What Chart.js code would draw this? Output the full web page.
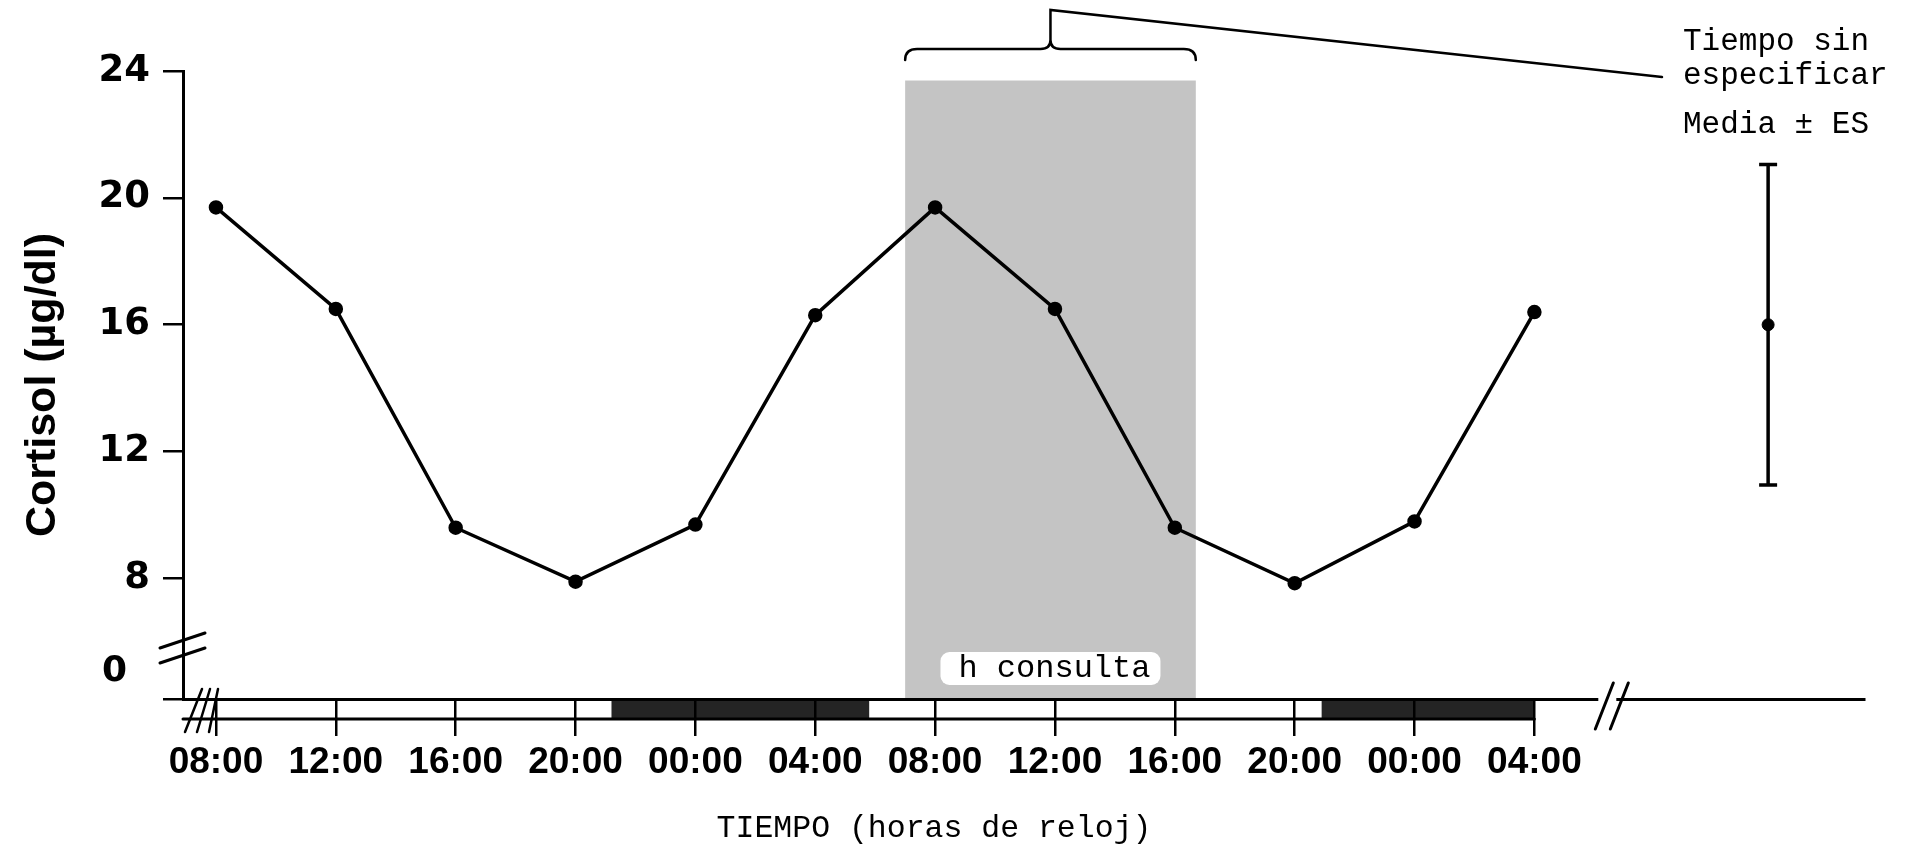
<!DOCTYPE html>
<html>
<head>
<meta charset="utf-8">
<title>Cortisol</title>
<script src="https://cdn.jsdelivr.net/npm/chart.js@4.4.1/dist/chart.umd.min.js"></script>
<style>
  html, body { margin: 0; padding: 0; background: #fff; overflow: hidden; }
  #wrap { position: relative; width: 1923px; height: 849px; }
</style>
</head>
<body>
<div id="wrap"><canvas id="cortisolChart"></canvas></div>
<script>
// horas desde las 08:00 del primer dia
const hours = [0, 4, 8, 12, 16, 20, 24, 28, 32, 36, 40, 44];
const clockLabels = ['08:00', '12:00', '16:00', '20:00', '00:00', '04:00', '08:00', '12:00', '16:00', '20:00', '00:00', '04:00'];
const cortisol = [19.7, 16.5, 9.6, 7.9, 9.7, 16.3, 19.7, 16.5, 9.6, 7.85, 9.8, 16.4];
const yTicks = [8, 12, 16, 20, 24];
const yAxisMin = 4.2;   // eje cortado, se rotula como 0

// tiempo sin especificar (media +/- ES)
const unspecHour = 51.8;
const unspecMean = 16.0;
const unspecSE = 5.05;

const consultHours = [23, 32.7];           // h consulta
const nights = [[13.2, 21.8], [36.9, 44]]; // barras oscuras
const bandEnd = 44;

const sans = "'Liberation Sans', Arial, sans-serif";
const mono = "'Liberation Mono', 'Courier New', monospace";

const backdrop = {
  id: 'backdrop',
  beforeDraw(chart) {
    const {ctx, scales: {x, y}, chartArea} = chart;
    ctx.save();
    // zona sombreada de consulta
    ctx.fillStyle = '#c4c4c4';
    const sx0 = x.getPixelForValue(consultHours[0]);
    const sx1 = x.getPixelForValue(consultHours[1]);
    const sTop = y.getPixelForValue(23.7);
    ctx.fillRect(sx0, sTop, sx1 - sx0, chartArea.bottom - sTop);
    // recuadro "h consulta"
    const mid = (sx0 + sx1) / 2;
    ctx.fillStyle = '#fff';
    ctx.beginPath();
    ctx.roundRect(mid - 110, chartArea.bottom - 47, 220, 33, 9);
    ctx.fill();
    ctx.fillStyle = '#000';
    ctx.font = '32px ' + mono;
    ctx.textAlign = 'center';
    ctx.textBaseline = 'middle';
    ctx.fillText('h consulta', mid + 4, chartArea.bottom - 30);
    // noches
    ctx.fillStyle = '#242424';
    nights.forEach(([a, b]) => {
      const p0 = x.getPixelForValue(a), p1 = x.getPixelForValue(b);
      ctx.fillRect(p0, chartArea.bottom, p1 - p0, 21);
    });
    ctx.restore();
  },
  afterDraw(chart) {
    const {ctx, scales: {x, y}, chartArea} = chart;
    const bot = chartArea.bottom;
    ctx.save();
    ctx.strokeStyle = '#000';
    ctx.fillStyle = '#000';
    ctx.lineWidth = 3;
    ctx.lineCap = 'round';

    // linea inferior de la banda dia/noche
    ctx.beginPath();
    ctx.moveTo(chartArea.left, bot + 20);
    ctx.lineTo(x.getPixelForValue(bandEnd), bot + 20);
    ctx.stroke();

    // /// al inicio del eje x
    ctx.lineWidth = 2.5;
    [[185, 202], [197, 210], [209, 218]].forEach(([a, b]) => {
      ctx.beginPath();
      ctx.moveTo(a, bot + 33);
      ctx.lineTo(b, bot - 10);
      ctx.stroke();
    });

    // corte // del eje x
    const gx = x.getPixelForValue(46.2);
    ctx.fillStyle = '#fff';
    ctx.fillRect(gx - 2, bot - 4, 18, 9);
    ctx.fillStyle = '#000';
    ctx.lineWidth = 3;
    [0, 15].forEach(d => {
      ctx.beginPath();
      ctx.moveTo(gx - 5 + d, bot + 30);
      ctx.lineTo(gx + 13 + d, bot - 16);
      ctx.stroke();
    });

    // corte del eje y
    [0, 15].forEach(d => {
      ctx.beginPath();
      ctx.moveTo(160, 648 + d);
      ctx.lineTo(205, 633 + d);
      ctx.stroke();
    });

    // etiqueta 0 del eje y
    ctx.font = 'bold 36px DejaVu Sans';
    ctx.textAlign = 'right';
    ctx.textBaseline = 'middle';
    ctx.fillText('0', 127, bot - 27);

    // llave sobre la consulta
    ctx.lineWidth = 2.5;
    const bx0 = x.getPixelForValue(consultHours[0]);
    const bx1 = x.getPixelForValue(consultHours[1]);
    const bm = (bx0 + bx1) / 2;
    const by = 49;
    ctx.beginPath();
    ctx.moveTo(bx0, by + 11);
    ctx.quadraticCurveTo(bx0, by, bx0 + 12, by);
    ctx.lineTo(bm - 10, by);
    ctx.quadraticCurveTo(bm, by, bm, by - 9);
    ctx.quadraticCurveTo(bm, by, bm + 10, by);
    ctx.lineTo(bx1 - 12, by);
    ctx.quadraticCurveTo(bx1, by, bx1, by + 11);
    ctx.moveTo(bm, by - 9);
    ctx.lineTo(bm, 10);
    ctx.lineTo(1662, 77);
    ctx.stroke();

    // textos de la derecha
    ctx.font = '31px ' + mono;
    ctx.textAlign = 'left';
    ctx.textBaseline = 'alphabetic';
    ctx.fillText('Tiempo sin', 1683, 50);
    ctx.fillText('especificar', 1683, 84);
    ctx.fillText('Media \u00b1 ES', 1683, 133);

    // barra de error
    const ex = x.getPixelForValue(unspecHour);
    const eTop = y.getPixelForValue(unspecMean + unspecSE);
    const eBot = y.getPixelForValue(unspecMean - unspecSE);
    ctx.lineWidth = 3.5;
    ctx.lineCap = 'butt';
    ctx.beginPath();
    ctx.moveTo(ex, eTop);
    ctx.lineTo(ex, eBot);
    ctx.moveTo(ex - 9, eTop);
    ctx.lineTo(ex + 9, eTop);
    ctx.moveTo(ex - 9, eBot);
    ctx.lineTo(ex + 9, eBot);
    ctx.stroke();

    // titulo eje x
    ctx.font = '31.5px ' + mono;
    ctx.textAlign = 'center';
    ctx.textBaseline = 'middle';
    ctx.fillText('TIEMPO (horas de reloj)', 934, 829);
    ctx.restore();
  }
};

const ctx = document.getElementById('cortisolChart');

new Chart(ctx, {
  type: 'line',
  data: {
    datasets: [{
      label: 'Cortisol',
      data: hours.map((h, i) => ({x: h, y: cortisol[i]})),
      borderColor: '#000',
      backgroundColor: '#000',
      borderWidth: 3.5,
      pointRadius: 5.5,
      pointHoverRadius: 5.5,
      tension: 0
    }, {
      label: 'Tiempo sin especificar',
      data: [{x: unspecHour, y: unspecMean}],
      showLine: false,
      borderColor: '#000',
      backgroundColor: '#000',
      pointRadius: 6,
      pointHoverRadius: 6
    }]
  },
  options: {
    responsive: true,
    maintainAspectRatio: false,
    animation: false,
    layout: { padding: { top: 71, right: 59, left: 0, bottom: 0 } },
    plugins: {
      legend: { display: false },
      tooltip: { enabled: false }
    },
    scales: {
      x: {
        type: 'linear',
        min: -1.1,
        max: 55,
        afterBuildTicks: s => { s.ticks = hours.map(v => ({value: v})); },
        afterFit: s => { s.height = 150; },
        ticks: {
          callback: (v, i) => clockLabels[i],
          font: { family: sans, size: 37, weight: 'bold' },
          color: '#000',
          padding: 5,
          maxRotation: 0,
          autoSkip: false
        },
        grid: { drawOnChartArea: false, tickLength: 37, color: '#000', lineWidth: 2.5 },
        border: { color: '#000', width: 3 }
      },
      y: {
        min: yAxisMin,
        max: 24,
        afterBuildTicks: s => { s.ticks = [{value: yAxisMin}].concat(yTicks.map(v => ({value: v}))); },
        afterFit: s => { s.width = 183; },
        ticks: {
          callback: v => (v === yAxisMin ? '' : v),
          font: { family: 'DejaVu Sans', size: 37, weight: 'bold' },
          color: '#000',
          padding: 13
        },
        grid: { drawOnChartArea: false, tickLength: 20, color: '#000', lineWidth: 2.5 },
        border: { color: '#000', width: 3 },
        title: {
          display: true,
          text: 'Cortisol (\u00b5g/dl)',
          font: { family: sans, size: 43, weight: 'bold' },
          color: '#000',
          padding: { top: 17, bottom: 0 }
        }
      }
    }
  },
  plugins: [backdrop]
});
</script>
</body>
</html>
